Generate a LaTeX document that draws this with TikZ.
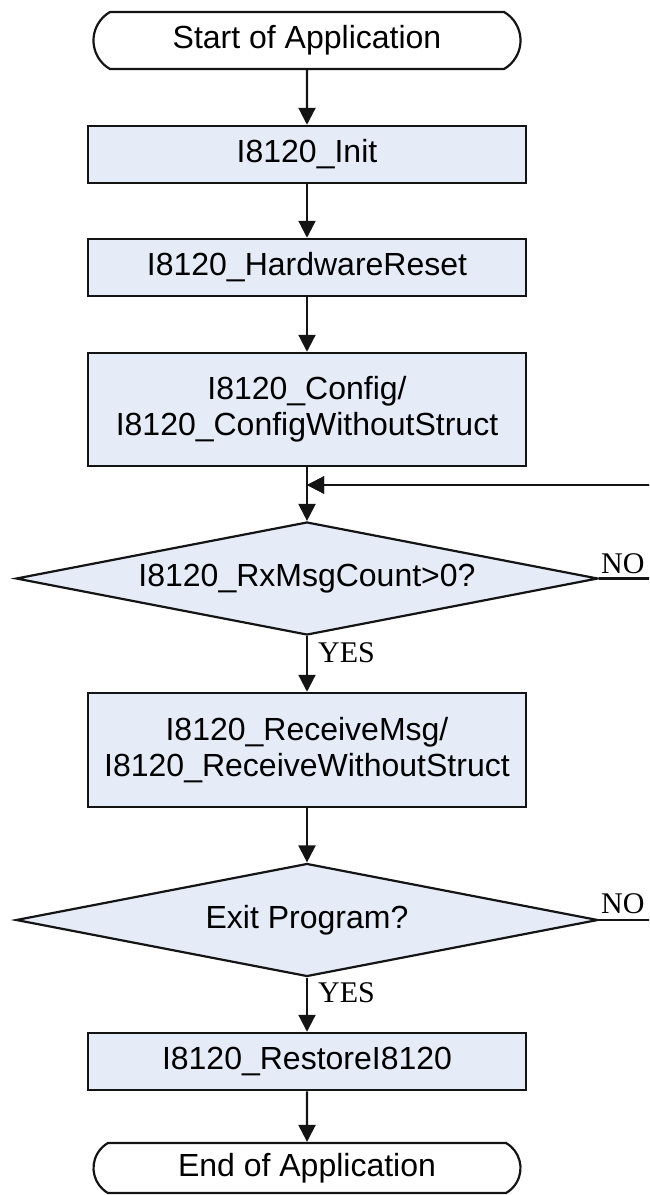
\documentclass[tikz,border=0pt]{standalone}
\usepackage{fontspec}
\setmainfont{Liberation Sans}
\newfontfamily\answerfont{Liberation Serif}
\usetikzlibrary{shapes.geometric,shapes.misc,arrows.meta}
\definecolor{boxfill}{RGB}{229,236,248}
\definecolor{linegray}{RGB}{20,20,20}

\tikzset{
  terminal/.style={rounded rectangle, rounded rectangle arc length=120, draw=linegray,
    line width=2.2pt, minimum width=427pt, minimum height=57pt, inner sep=0pt,
    font=\fontsize{32}{36}\selectfont},
  process/.style={rectangle, draw=linegray, fill=boxfill, line width=2.5pt,
    minimum width=438pt, inner sep=0pt, align=center, font=\fontsize{32}{36}\selectfont},
  decision/.style={diamond, draw=linegray, fill=boxfill, line width=2.2pt, aspect=5.15,
    minimum width=582pt, minimum height=113pt, inner sep=0pt, font=\fontsize{32}{36}\selectfont},
  flowline/.style={draw=linegray, line width=2.2pt, -{Triangle[length=17pt,width=17pt]}},
  answer/.style={font=\answerfont\fontsize{30}{30}\selectfont, inner sep=0pt, anchor=base west},
}

\begin{document}
\begin{tikzpicture}[x=1pt, y=-1pt]
  \useasboundingbox (0,0) rectangle (649,1195);
  \clip (0,0) rectangle (649,1195);
  % Blocos do fluxo
  \node[terminal] (start) at (307,40.5) {Start of Application};
  \node[process, minimum height=57pt] (init) at (307,154.5) {I8120\_Init};
  \node[process, minimum height=57pt] (reset) at (307,267.5) {I8120\_HardwareReset};
  \node[process, minimum height=113pt] (config) at (307,409.5) {I8120\_Config/\\I8120\_ConfigWithoutStruct};
  \node[decision] (rx) at (307,578.5) {I8120\_RxMsgCount>0?};
  \node[process, minimum height=114pt] (receive) at (307,750) {I8120\_ReceiveMsg/\\I8120\_ReceiveWithoutStruct};
  \node[decision] (exit) at (307,920) {Exit Program?};
  \node[process, minimum height=57pt] (restore) at (307,1061.5) {I8120\_RestoreI8120};
  \node[terminal, minimum height=50pt] (end) at (307,1168) {End of Application};
  % Ponto de retorno do laco
  \coordinate (join) at (307,485);
  % Setas
  \draw[flowline] (start) -- (init);
  \draw[flowline] (init) -- (reset);
  \draw[flowline] (reset) -- (config);
  \draw[flowline] (config) -- (rx);
  \draw[flowline] (rx) -- (receive);
  \draw[flowline] (receive) -- (exit);
  \draw[flowline] (exit) -- (restore);
  \draw[flowline] (restore) -- (end);
  % Ramos NO voltando ao laco
  \draw[flowline] (rx.east) -- ++(60,0) |- (join);
  \draw[flowline] (exit.east) -- ++(80,0) |- (join);
  % Rotulos
  \node[answer] (yes1) at (318,662) {YES};
  \node[answer] (yes2) at (318,1002) {YES};
  \node[answer] (no1) at (601,573) {NO};
  \node[answer] (no2) at (601,913) {NO};
\end{tikzpicture}
\end{document}
